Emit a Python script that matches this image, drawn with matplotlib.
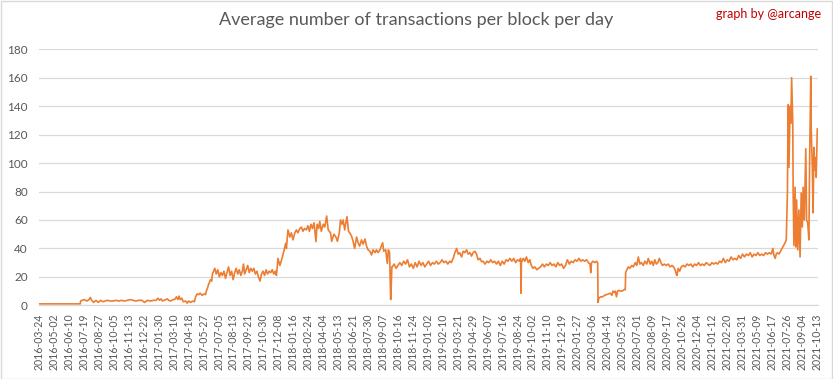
import matplotlib
matplotlib.use("Agg")
import matplotlib.pyplot as plt
from matplotlib.patches import Rectangle

# ---------------- data (day index from 2016-03-24, avg tx per block) -------------
days = [
    0, 107,
    108, 112, 118, 124, 130, 133, 137, 142, 148, 154, 160, 166, 172, 178, 185, 192,
    200, 208, 215, 222, 230, 238, 245, 252, 260, 268, 275, 282, 290, 298, 305, 310,
    314, 318, 322, 330, 334, 338, 342, 350, 355, 358, 362, 365, 368, 372, 376, 382,
    386, 390, 395, 400, 405,
    408, 412, 416, 420, 425, 430, 434, 436, 439, 441, 444, 447, 450, 452, 455, 458,
    462, 466, 470, 474, 478, 482, 486, 490, 494, 498, 502, 506, 510, 514, 518, 522,
    526, 530, 533, 536, 540, 544, 548, 552, 556, 560, 564, 568, 572, 576, 580, 584,
    588, 592, 596, 600, 604, 608, 612, 616, 619,
    623, 628, 632, 638, 643, 645, 649, 654, 658, 662, 667, 671, 675, 680, 684, 688,
    692, 697, 701, 705, 709, 713, 717, 719, 722, 725, 729, 732, 736, 741, 745, 750,
    754, 760, 763, 769, 774, 778, 783, 786, 790, 793, 797, 800, 803, 807, 810, 815,
    819, 823, 828, 832, 836, 841, 845, 850, 854, 858, 863, 867, 871, 876, 880, 884,
    889, 896, 899, 904, 908, 911, 914, 917, 918, 920,
    921, 926, 931, 936, 941, 946, 951, 956, 961, 966, 971, 976, 981, 986, 991, 996,
    1001, 1006, 1011, 1016, 1021, 1026, 1031, 1036, 1041, 1046, 1051, 1056, 1061,
    1066, 1071, 1075,
    1080, 1084, 1089, 1093, 1097, 1102, 1106, 1110, 1115, 1119, 1124, 1128, 1132,
    1137, 1141, 1145, 1150, 1154, 1158, 1163, 1168, 1173, 1178, 1183, 1188, 1193,
    1198, 1203, 1208, 1213, 1218, 1223, 1228, 1233, 1238, 1243, 1248, 1253, 1256,
    1257, 1258, 1263, 1267, 1271, 1276, 1280, 1284, 1288, 1293, 1298, 1303, 1308,
    1313, 1318, 1323, 1328, 1333, 1338, 1343, 1348, 1353, 1358, 1363, 1368, 1373,
    1378, 1383, 1388, 1393, 1398, 1403, 1408, 1413, 1418, 1423, 1428, 1433, 1437,
    1439, 1441, 1445, 1450, 1454, 1457,
    1458, 1460, 1465, 1470, 1475, 1480, 1485, 1490, 1494, 1497, 1500, 1503, 1506,
    1509, 1512, 1516, 1521, 1526, 1529,
    1530, 1533, 1537, 1541, 1546, 1550, 1555, 1559, 1563, 1567, 1571, 1576, 1580,
    1585, 1589, 1594, 1598, 1602, 1606, 1610, 1614, 1618, 1622, 1626, 1631, 1636,
    1641, 1646, 1651, 1655, 1659, 1662, 1664, 1667, 1671, 1675, 1680, 1685, 1690,
    1695, 1700, 1705, 1710, 1715, 1720, 1725, 1730, 1735, 1740, 1745, 1750, 1755,
    1760, 1765, 1770, 1775, 1780, 1785, 1790, 1795, 1800, 1805, 1810, 1815, 1820,
    1825, 1830, 1835, 1840, 1845, 1850, 1855, 1860, 1865, 1870, 1875, 1880, 1885,
    1890, 1895, 1900, 1905, 1910, 1914, 1917, 1920, 1923, 1926, 1930, 1934, 1938,
    1942, 1946, 1949,
    1952, 1954, 1956, 1959, 1961, 1963, 1966, 1967, 1969, 1972, 1974, 1976, 1979,
    1982, 1985, 1988, 1991, 1993, 1996, 2000, 2002, 2005, 2008, 2010, 2013, 2014,
    2017, 2019, 2021, 2023, 2026, 2027, 2030,
]

values = [
    1, 1,
    3, 3.5, 4, 3, 4, 5.5, 3.5, 2, 3.5, 2, 3.5, 2.5, 3, 3.5, 3, 3,
    3.5, 3, 3.5, 3, 3.5, 4, 3.5, 3, 3.5, 3.5, 2, 3.5, 3, 3.5, 3.5, 5,
    3.5, 4.5, 3, 4, 4.5, 3.5, 3, 4, 4.5, 6, 4, 6.5, 4, 5, 2.5, 3,
    1.5, 3, 2, 3, 2.5,
    6, 8, 7.5, 8.5, 7, 8, 7.5, 10, 12, 14, 16, 18, 17, 22, 24, 26,
    22, 25, 20, 23, 21, 24, 19, 23, 27, 21, 24, 18, 23, 26, 22, 25,
    21, 24, 29, 22, 25, 28, 23, 26, 24, 26, 22, 24, 20, 17, 22, 24,
    21, 25, 22, 24, 23, 25, 22, 24, 21,
    33, 28, 31.6, 37.7, 43.6, 40, 53, 48, 51, 46, 51, 53, 51, 54, 55, 52,
    54, 53, 56, 52, 57, 54, 58, 53, 44.7, 57, 54, 59, 52, 57, 55, 62.8,
    53, 51, 45, 50, 48, 45, 51, 60, 57, 60, 53, 58, 62.3, 52, 51, 48.6,
    45, 40, 48, 44, 41.6, 46, 43, 46.6, 41.6, 39, 38, 35.4, 39, 37, 39, 37,
    39, 44, 38, 39, 29.5, 39, 37, 4, 10, 27,
    27, 29, 26, 28, 30, 28, 31, 29, 32, 27, 29, 26, 30, 27, 31, 28,
    30, 27, 29, 31, 28, 30, 29, 31, 29, 30, 32, 30, 31,
    29, 31, 30,
    33, 36.6, 40, 36, 37, 34, 38, 37, 39, 36, 37, 34.6, 37,
    38, 36, 32, 33, 30.7, 31, 29, 31, 30, 32, 30, 31, 29,
    31, 28, 31, 29, 32, 31, 33, 31, 33, 30, 32, 31, 33,
    8.5, 30, 33, 31, 34, 30, 32, 28, 26, 27, 25, 26, 27,
    29, 27, 29, 28, 30, 28, 29, 27, 30, 28, 29, 26, 28,
    32, 29, 31, 30, 32, 31, 33, 31, 32, 31, 32, 30, 29,
    23, 30, 31, 30, 31, 30,
    2, 5, 6, 6, 7, 7.5, 8, 8.5, 7, 10, 9, 10, 6,
    10, 10.5, 10, 10, 11, 11,
    23, 25, 27, 26, 28, 27, 30, 28, 34, 29, 30, 28, 31,
    29, 33, 29, 31, 28, 32, 29, 30, 33, 30, 28, 29, 28,
    29, 27, 28, 27, 25, 22, 21, 26, 24, 27, 28, 27, 29,
    28, 29, 27, 29, 28, 30, 28, 29, 28, 30, 29, 28, 30,
    29, 30, 29, 31, 30, 33, 30, 32, 31, 34, 32, 33, 32,
    35, 33, 36, 34, 36, 35, 37, 34, 36, 35, 37, 35, 36,
    35, 37, 36, 37, 36, 40, 35, 33, 36, 37, 36, 38, 40,
    42, 44, 46,
    79, 141, 97, 140, 128, 160, 128, 79, 42, 83, 41, 74, 39,
    67, 34, 79, 55, 83, 60, 110, 60, 58, 46, 102, 161, 125,
    97, 65, 111, 95, 104, 90, 124,
]

tick_labels = [
    "2016-03-24", "2016-05-02", "2016-06-10", "2016-07-19", "2016-08-27",
    "2016-10-05", "2016-11-13", "2016-12-22", "2017-01-30", "2017-03-10",
    "2017-04-18", "2017-05-27", "2017-07-05", "2017-08-13", "2017-09-21",
    "2017-10-30", "2017-12-08", "2018-01-16", "2018-02-24", "2018-04-04",
    "2018-05-13", "2018-06-21", "2018-07-30", "2018-09-07", "2018-10-16",
    "2018-11-24", "2019-01-02", "2019-02-10", "2019-03-21", "2019-04-29",
    "2019-06-07", "2019-07-16", "2019-08-24", "2019-10-02", "2019-11-10",
    "2019-12-19", "2020-01-27", "2020-03-06", "2020-04-14", "2020-05-23",
    "2020-07-01", "2020-08-09", "2020-09-17", "2020-10-26", "2020-12-04",
    "2021-01-12", "2021-02-20", "2021-03-31", "2021-05-09", "2021-06-17",
    "2021-07-26", "2021-09-04", "2021-10-13",
]
tick_step = 39  # days between category labels

y_ticks = [0, 20, 40, 60, 80, 100, 120, 140, 160, 180]

title = "Average number of transactions per block per day"
credit = "graph by @arcange"

# ---------------- figure -------------
W, H = 833, 379
fig = plt.figure(figsize=(W / 100, H / 100), dpi=100)
fig.patch.set_facecolor("white")
fig.patches.append(Rectangle((0.5 / W, 0.5 / H), 1 - 1.5 / W, 1 - 1.5 / H,
                             transform=fig.transFigure, fill=False,
                             edgecolor="#d9d9d9", linewidth=1.0))

left, right = 39 / W, 817.5 / W
bottom, top = 1 - 305.3 / H, 1 - 49.3 / H
ax = fig.add_axes([left, bottom, right - left, top - bottom])

ax.plot(days, values, color="#ED7D31", linewidth=1.2, solid_joinstyle="round")

ax.set_xlim(-0.5, 2030.5)
ax.set_ylim(0, 180)

ax.set_yticks(y_ticks)
ax.set_yticklabels([str(v) for v in y_ticks])
ax.set_xticks([i * tick_step for i in range(len(tick_labels))])
ax.set_xticklabels(tick_labels, rotation=90)

ax.grid(axis="y", color="#d9d9d9", linewidth=0.9)
ax.set_axisbelow(True)
for s in ["top", "right", "left"]:
    ax.spines[s].set_visible(False)
ax.spines["bottom"].set_color("#d9d9d9")
ax.spines["bottom"].set_linewidth(0.9)

ax.tick_params(axis="y", length=0, pad=8, labelsize=8.5, labelcolor="#595959")
ax.tick_params(axis="x", length=0, pad=6, labelsize=7.6, labelcolor="#595959")
for lab in ax.get_xticklabels() + ax.get_yticklabels():
    lab.set_fontfamily("Lato")

fig.text(416 / W, 1 - 20 / H, title, ha="center", va="center",
         fontsize=13, color="#595959", family="Lato")
fig.text(821 / W, 1 - 14 / H, credit, ha="right", va="center",
         fontsize=9, color="#C00000", family="Lato")

fig.savefig("out.png", dpi=100, facecolor="white")
